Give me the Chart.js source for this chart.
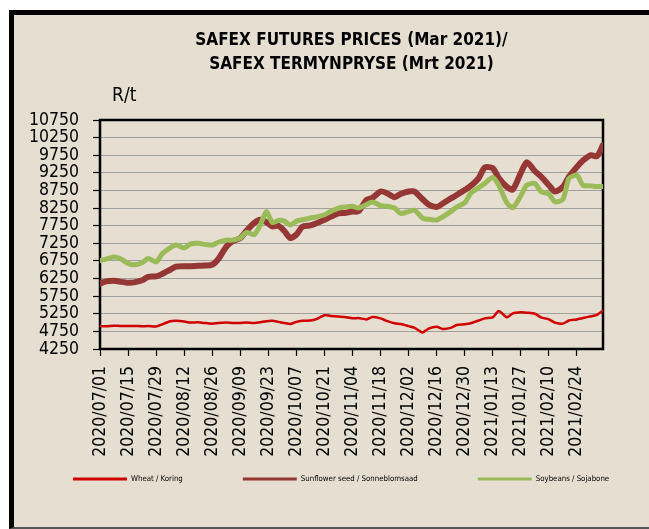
<!DOCTYPE html>
<html>
<head>
<meta charset="utf-8">
<title>SAFEX futures prices</title>
<script src="https://cdn.jsdelivr.net/npm/chart.js@4.4.1/dist/chart.umd.min.js"></script>
<style>
    html, body { margin: 0; padding: 0; background: #fff; }
    body { width: 649px; height: 529px; position: relative; overflow: hidden; }
    #frame {
        position: absolute; left: 9px; top: 10px;
        width: 650px; height: 512px;
        background: #e5ded1;
        border-left: 5px solid #000;
        border-top: 5px solid #000;
        border-bottom: 2px solid #555;
    }
    #priceChart { position: absolute; left: 0; top: 0; }
</style>
</head>
<body>
<div id="frame"></div>
<canvas id="priceChart" width="649" height="529"></canvas>

<script>
const FONT = "'DejaVu Sans Condensed', 'Liberation Sans Narrow', 'Arial Narrow', sans-serif";

// days since 2020/07/01
const tradingDay = [0, 3, 7, 10, 14, 17, 21, 24, 28, 31, 35, 38, 42, 45, 49, 52, 56, 59, 63, 66,
    70, 73, 77, 80, 83, 86, 89, 92, 95, 98, 101, 105, 108, 112, 115, 119, 122, 126, 129, 133,
    136, 140, 143, 147, 150, 154, 157, 161, 164, 168, 171, 175, 178, 182, 185, 189, 192, 196, 199, 203,
    206, 210, 213, 217, 220, 224, 227, 231, 234, 238, 241, 245, 248, 251];

const wheat = [4900, 4895, 4910, 4905, 4900, 4905, 4895, 4900, 4890, 4950, 5040, 5050, 5030, 5000, 5010, 4990, 4970, 4990, 5000, 4990,
    4990, 5000, 4990, 5010, 5040, 5050, 5020, 4990, 4960, 5020, 5050, 5060, 5100, 5210, 5190, 5170, 5160, 5120, 5130, 5090,
    5160, 5120, 5050, 4980, 4960, 4900, 4850, 4720, 4830, 4880, 4820, 4850, 4930, 4950, 4980, 5060, 5120, 5150, 5330, 5150,
    5260, 5290, 5280, 5250, 5150, 5090, 5000, 4970, 5060, 5090, 5130, 5180, 5220, 5340];

const sunflower = [6110, 6170, 6190, 6160, 6130, 6140, 6200, 6300, 6310, 6380, 6500, 6590, 6600, 6600, 6610, 6620, 6640, 6800, 7150, 7300,
    7400, 7600, 7830, 7920, 7850, 7730, 7750, 7600, 7400, 7500, 7720, 7760, 7820, 7920, 8000, 8100, 8110, 8150, 8160, 8480,
    8540, 8720, 8680, 8560, 8650, 8720, 8720, 8500, 8350, 8280, 8380, 8520, 8620, 8760, 8880, 9100, 9400, 9380, 9100, 8850,
    8780, 9250, 9550, 9300, 9150, 8900, 8720, 8850, 9140, 9420, 9600, 9750, 9720, 10040];

const soybeans = [6760, 6800, 6860, 6820, 6680, 6640, 6700, 6820, 6720, 6950, 7120, 7200, 7120, 7230, 7250, 7220, 7200, 7280, 7340, 7340,
    7400, 7560, 7500, 7770, 8150, 7840, 7900, 7880, 7770, 7880, 7920, 7970, 8000, 8060, 8150, 8250, 8280, 8300, 8250, 8350,
    8420, 8320, 8300, 8250, 8100, 8150, 8190, 7960, 7930, 7910, 8000, 8150, 8280, 8400, 8670, 8830, 8950, 9120, 8900, 8400,
    8260, 8600, 8900, 8950, 8720, 8650, 8430, 8500, 9090, 9180, 8900, 8880, 8860, 8860];

const tickLabels = ["2020/07/01", "2020/07/15", "2020/07/29", "2020/08/12", "2020/08/26", "2020/09/09",
    "2020/09/23", "2020/10/07", "2020/10/21", "2020/11/04", "2020/11/18", "2020/12/02",
    "2020/12/16", "2020/12/30", "2021/01/13", "2021/01/27", "2021/02/10", "2021/02/24"];
const tickStepDays = 14;

const seriesNames = ["Wheat / Koring", "Sunflower seed / Sonneblomsaad", "Soybeans / Sojabone"];
const titleLines = ["SAFEX FUTURES PRICES (Mar 2021)/", "SAFEX TERMYNPRYSE (Mrt 2021)"];

function toPoints(values) {
    return tradingDay.map((day, i) => ({ x: day, y: values[i] }));
}

//======================[plugins]======================
const plotFrame = {
    id: "plotFrame",
    beforeDatasetsDraw(chart) {
        const { ctx, chartArea: a } = chart;
        ctx.save();
        ctx.strokeStyle = "#000";
        ctx.lineWidth = 2.5;
        ctx.strokeRect(a.left, a.top, a.right - a.left, a.bottom - a.top);
        ctx.restore();
    },
};

const unitLabel = {
    id: "unitLabel",
    afterDraw(chart) {
        const ctx = chart.ctx;
        ctx.save();
        ctx.font = `19px ${FONT}`;
        ctx.fillStyle = "#000";
        ctx.textBaseline = "middle";
        ctx.fillText("R/t", chart.chartArea.left + 12, 96);
        ctx.restore();
    },
};

const lineLegend = {
    id: "lineLegend",
    afterDraw(chart) {
        const ctx = chart.ctx;
        let x = 73;
        const y = 479;
        ctx.save();
        ctx.font = `7.8px ${FONT}`;
        ctx.textBaseline = "middle";
        ctx.fillStyle = "#000";
        chart.data.datasets.forEach((ds) => {
            ctx.strokeStyle = ds.borderColor;
            ctx.lineWidth = 3;
            ctx.beginPath();
            ctx.moveTo(x, y);
            ctx.lineTo(x + 54, y);
            ctx.stroke();
            ctx.fillText(ds.label, x + 58, y);
            x += 58 + ctx.measureText(ds.label).width + 60;
        });
        ctx.restore();
    },
};

//======================[chart]======================
const lineStyle = { fill: false, pointRadius: 0, tension: 0.25, borderJoinStyle: "round", borderCapStyle: "round" };

new Chart(document.getElementById("priceChart"), {
    type: "line",
    data: {
        datasets: [
            { ...lineStyle, label: seriesNames[0], data: toPoints(wheat), borderColor: "#d00000", borderWidth: 2.5, order: 2 },
            { ...lineStyle, label: seriesNames[1], data: toPoints(sunflower), borderColor: "#953735", borderWidth: 6, order: 1 },
            { ...lineStyle, label: seriesNames[2], data: toPoints(soybeans), borderColor: "#9bbb59", borderWidth: 5, order: 0 },
        ],
    },
    options: {
        responsive: false,
        devicePixelRatio: 1,
        animation: false,
        events: [],
        layout: { padding: { left: 0, right: 46, top: 0, bottom: 0 } },
        plugins: {
            legend: { display: false },
            tooltip: { enabled: false },
            title: {
                display: true,
                fullSize: false,
                text: titleLines,
                color: "#000",
                font: { family: FONT, size: 17, weight: "bold", lineHeight: 24 / 17 },
                padding: { top: 29, bottom: 43 },
            },
        },
        scales: {
            x: {
                type: "linear",
                min: 0,
                max: tradingDay[tradingDay.length - 1],
                afterBuildTicks: (scale) => {
                    scale.ticks = tickLabels.map((_, i) => ({ value: i * tickStepDays }));
                },
                afterFit: (scale) => { scale.height = 180; },
                grid: { drawOnChartArea: false, drawTicks: true, tickLength: 7, tickColor: "#000", tickWidth: 1.2 },
                border: { display: false },
                ticks: {
                    autoSkip: false,
                    minRotation: 90,
                    maxRotation: 90,
                    padding: 10,
                    color: "#000",
                    font: { family: FONT, size: 17.5 },
                    callback: (value, index) => tickLabels[index],
                },
            },
            y: {
                min: 4250,
                max: 10750,
                afterFit: (scale) => { scale.width = 100; },
                grid: { color: "#a0a0a0", lineWidth: 1, tickLength: 7, tickColor: "#000", tickWidth: 1.2 },
                border: { display: false },
                ticks: {
                    stepSize: 500,
                    autoSkip: false,
                    padding: 14,
                    color: "#000",
                    font: { family: FONT, size: 17.5, lineHeight: 1 },
                    callback: (value) => String(value),
                },
            },
        },
    },
    plugins: [plotFrame, unitLabel, lineLegend],
});
</script>
</body>
</html>
